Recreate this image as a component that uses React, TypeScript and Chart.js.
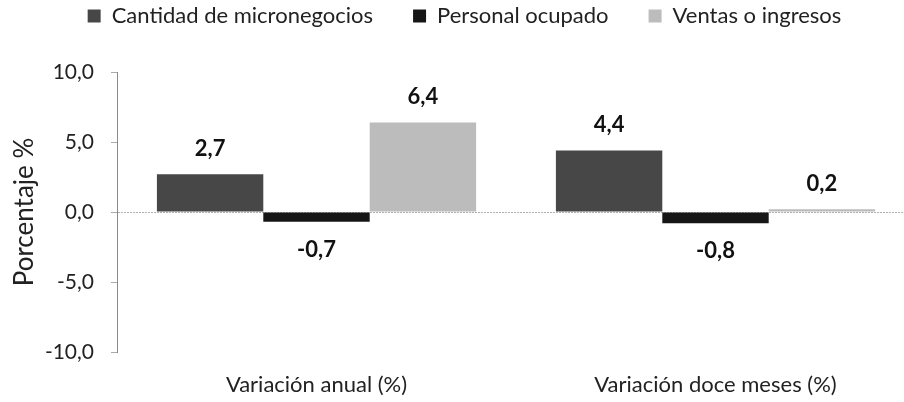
import React, { useEffect, useRef } from "react";
import { Chart, registerables } from "chart.js";

Chart.register(...registerables);

const categories = ["Variación anual (%)", "Variación doce meses (%)"];
const seriesNames = ["Cantidad de micronegocios", "Personal ocupado", "Ventas o ingresos"];
const micronegocios = [2.7, 4.4];
const personal = [-0.7, -0.8];
const ventas = [6.4, 0.2];
const seriesColors = ["#474747", "#161616", "#bcbcbc"];
const yTicks = [-10, -5, 0, 5, 10];

const FONT = "Lato, 'Open Sans', sans-serif";
const fmt = (v: number) => v.toFixed(1).replace(".", ",");

const valueLabels = {
  id: "valueLabels",
  afterDatasetsDraw(chart: any) {
    const ctx = chart.ctx;
    ctx.save();
    ctx.font = `bold 22px ${FONT}`;
    ctx.fillStyle = "#111";
    ctx.textAlign = "center";
    ctx.textBaseline = "middle";
    chart.data.datasets.forEach((ds: any, i: number) => {
      const meta = chart.getDatasetMeta(i);
      meta.data.forEach((bar: any, j: number) => {
        const v = ds.data[j];
        const y = v >= 0 ? bar.y - 25 : bar.y + 28;
        ctx.fillText(fmt(v), bar.x, y);
      });
    });
    ctx.restore();
  },
};

const LEGEND_PAD = 40;
const LEGEND_FONT = 22;

const legendShift = {
  id: "legendShift",
  afterLayout(chart: any) {
    const lg = chart.legend;
    if (lg) {
      lg.left += 7;
      lg.right += 7;
      const center = lg.top + LEGEND_PAD + LEGEND_FONT / 2;
      const dy = 16 - center;
      lg.top += dy;
      lg.bottom += dy;
    }
  },
};

export default function App() {
  const ref = useRef<HTMLCanvasElement>(null);
  useEffect(() => {
    if (!ref.current) return;
    const chart = new Chart(ref.current, {
      type: "bar",
      data: {
        labels: categories,
        datasets: [
          { label: seriesNames[0], data: micronegocios, backgroundColor: seriesColors[0] },
          { label: seriesNames[1], data: personal, backgroundColor: seriesColors[1] },
          { label: seriesNames[2], data: ventas, backgroundColor: seriesColors[2] },
        ],
      },
      options: {
        animation: false,
        responsive: true,
        maintainAspectRatio: false,
        layout: { padding: { top: 0, right: 0, left: 0, bottom: 0 } },
        datasets: { bar: { categoryPercentage: 0.8, barPercentage: 1 } },
        plugins: {
          legend: {
            position: "top",
            labels: {
              boxWidth: 13,
              boxHeight: 13,
              padding: LEGEND_PAD,
              color: "#222",
              font: { family: FONT, size: LEGEND_FONT },
            },
          },
          tooltip: { enabled: false },
        },
        scales: {
          x: {
            grid: { display: false, drawTicks: false },
            border: { display: false },
            ticks: { color: "#222", font: { family: FONT, size: 22 }, padding: 20 },
            afterFit(scale: any) {
              scale.height = 50;
            },
          },
          y: {
            min: -10,
            max: 10,
            afterBuildTicks(scale: any) {
              scale.ticks = yTicks.map((v) => ({ value: v }));
            },
            ticks: {
              color: "#222",
              font: { family: FONT, size: 21 },
              padding: 17,
              callback: (v: any) => fmt(Number(v)),
            },
            grid: {
              color: (c: any) => (c.tick && c.tick.value === 0 ? "#b0b0b0" : "rgba(0,0,0,0)"),
              tickColor: "#aaa",
              tickLength: 6,
              lineWidth: 1,
            },
            border: { color: "#8a8a8a", dash: [2, 1] },
            title: {
              display: true,
              text: "Porcentaje %",
              color: "#222",
              font: { family: FONT, size: 26 },
              padding: { top: 9, bottom: 9 },
            },
            afterFit(scale: any) {
              scale.width = 117;
            },
          },
        },
      },
      plugins: [valueLabels, legendShift],
    });
    return () => chart.destroy();
  }, []);
  return (
    <div style={{ position: "absolute", left: 0, top: 0, width: 904, height: 402, overflow: "hidden", background: "#fff" }}>
      <div style={{ position: "relative", width: 915, height: 402 }}>
        <canvas ref={ref} />
      </div>
    </div>
  );
}
